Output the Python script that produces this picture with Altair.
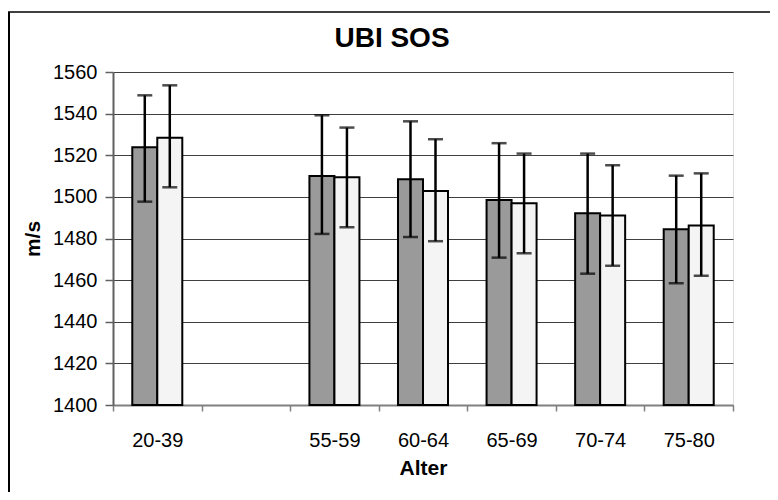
import altair as alt
import pandas as pd

# ---- data ----
categories = ["20-39", " ", "55-59", "60-64", "65-69", "70-74", "75-80"]
groups = ["20-39", "55-59", "60-64", "65-69", "70-74", "75-80"]
series = ["A", "B"]

mean_a = [1523.8, 1510.0, 1508.5, 1498.5, 1492.1, 1484.4]
low_a = [1497.7, 1482.2, 1480.7, 1470.8, 1463.1, 1458.5]
high_a = [1548.8, 1539.2, 1536.3, 1525.8, 1520.8, 1510.2]

mean_b = [1528.4, 1509.4, 1502.8, 1496.9, 1491.0, 1486.2]
low_b = [1504.6, 1485.4, 1478.7, 1472.9, 1466.9, 1462.1]
high_b = [1553.6, 1533.3, 1527.7, 1520.8, 1515.2, 1511.3]

y_ticks = [1400, 1420, 1440, 1460, 1480, 1500, 1520, 1540, 1560]

rows = []
for i, g in enumerate(groups):
    rows.append({"Alter": g, "s": "A", "v": mean_a[i], "lo": low_a[i], "hi": high_a[i]})
    rows.append({"Alter": g, "s": "B", "v": mean_b[i], "lo": low_b[i], "hi": high_b[i]})
df = pd.DataFrame(rows)

FONT = "Liberation Sans"

x_enc = alt.X(
    "Alter:N",
    scale=alt.Scale(domain=categories, paddingInner=0, paddingOuter=0),
    axis=alt.Axis(
        title="Alter",
        labelAngle=0,
        tickBand="extent",
        tickSize=6,
        tickColor="#808080",
        tickWidth=1.5,
        domainColor="#808080",
        domainWidth=2,
        labelFont=FONT,
        labelFontSize=20,
        labelColor="black",
        labelPadding=19,
        titleFont=FONT,
        titleFontSize=21,
        titleFontWeight="bold",
        titleColor="black",
        titlePadding=7,
        grid=False,
    ),
)
xoff = alt.XOffset("s:N", scale=alt.Scale(domain=series, paddingInner=0, paddingOuter=0.771))
y_scale = alt.Scale(domain=[1400, 1560], nice=False, zero=False)

bars = alt.Chart(df).mark_bar(stroke="black", strokeWidth=2).encode(
    x=x_enc,
    xOffset=xoff,
    y=alt.Y(
        "v:Q",
        scale=y_scale,
        axis=alt.Axis(
            title="m/s",
            values=y_ticks,
            format="d",
            tickSize=8,
            tickColor="#606060",
            tickWidth=1.5,
            domainColor="#606060",
            domainWidth=2,
            gridColor="#404040",
            gridWidth=1,
            labelFont=FONT,
            labelFontSize=20,
            labelColor="black",
            labelPadding=8,
            titleFont=FONT,
            titleFontSize=21,
            titleFontWeight="bold",
            titleColor="black",
            titlePadding=9,
        ),
    ),
    y2=alt.datum(1400),
    fill=alt.Fill("s:N", scale=alt.Scale(domain=series, range=["#9a9a9a", "#f4f4f4"]), legend=None),
)

rules = alt.Chart(df).mark_rule(color="black", strokeWidth=2.5).encode(
    x="Alter:N", xOffset=xoff, y=alt.Y("lo:Q", scale=y_scale), y2="hi:Q"
)
cap_hi = alt.Chart(df).mark_tick(color="black", size=15, thickness=2.5).encode(
    x="Alter:N", xOffset=xoff, y=alt.Y("hi:Q", scale=y_scale)
)
cap_lo = alt.Chart(df).mark_tick(color="black", size=15, thickness=2.5).encode(
    x="Alter:N", xOffset=xoff, y=alt.Y("lo:Q", scale=y_scale)
)

# outer frame (top and left edges visible in the reference)
frame_top = alt.Chart(pd.DataFrame({"a": [0]})).mark_rule(color="black", strokeWidth=1.5).encode(
    x=alt.value(-105), x2=alt.value(660), y=alt.value(-60)
)
frame_left = alt.Chart(pd.DataFrame({"a": [0]})).mark_rule(color="black", strokeWidth=2).encode(
    x=alt.value(-104), y=alt.value(-60), y2=alt.value(440)
)

chart = alt.layer(bars, rules, cap_hi, cap_lo, frame_top, frame_left).properties(
    width=620,
    height=333,
    padding={"left": 105, "top": 64, "right": 37, "bottom": 87},
    autosize=alt.AutoSizeParams(type="none"),
    title=alt.TitleParams(
        "UBI SOS", font=FONT, fontSize=28, fontWeight="bold", color="black",
        anchor="middle", frame="group", dx=-31, offset=-42,
    ),
).configure_view(stroke="#808080", strokeWidth=2).configure(background="white")

chart.save("out.html", embed_options={"renderer": "svg", "actions": False})
